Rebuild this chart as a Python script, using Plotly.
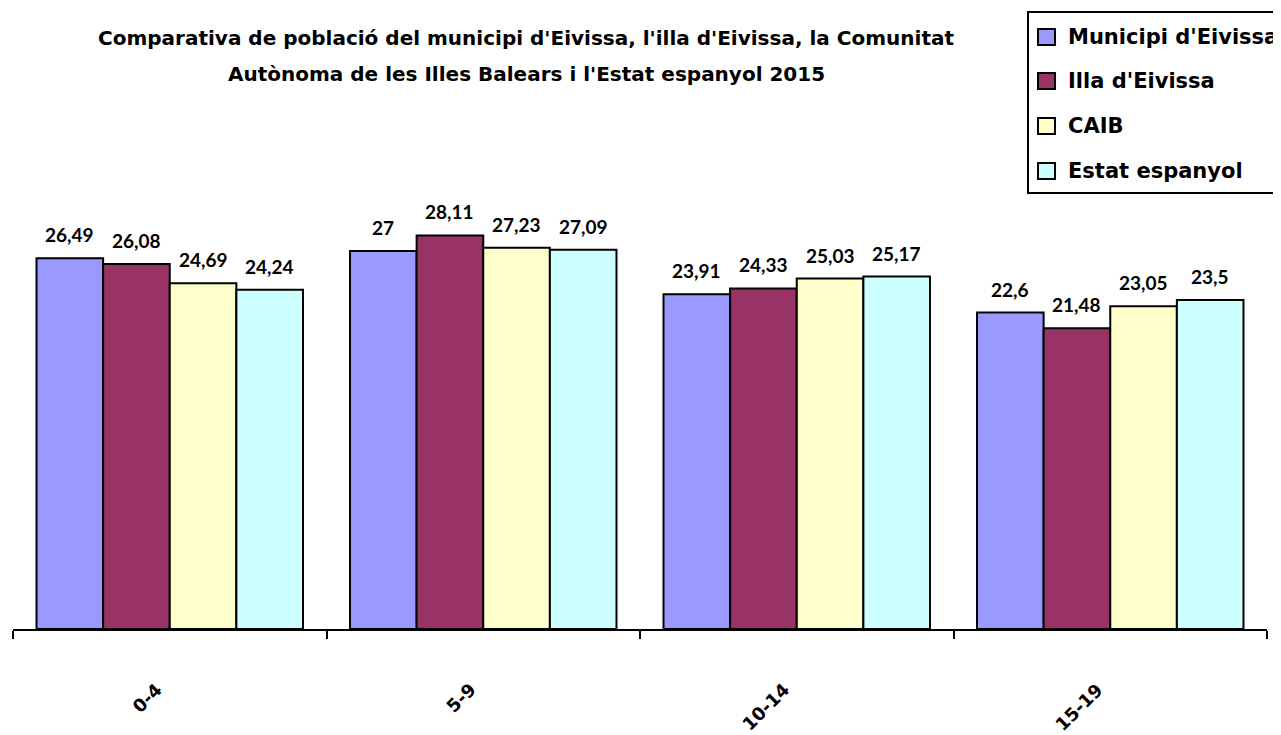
import plotly.graph_objects as go

categories = ["0-4", "5-9", "10-14", "15-19"]
series_names = ["Municipi d'Eivissa", "Illa d'Eivissa", "CAIB", "Estat espanyol"]
municipi = [26.49, 27.00, 23.91, 22.60]
illa = [26.08, 28.11, 24.33, 21.48]
caib = [24.69, 27.23, 25.03, 23.05]
estat = [24.24, 27.09, 25.17, 23.50]
label_municipi = ["26,49", "27", "23,91", "22,6"]
label_illa = ["26,08", "28,11", "24,33", "21,48"]
label_caib = ["24,69", "27,23", "25,03", "23,05"]
label_estat = ["24,24", "27,09", "25,17", "23,5"]
title_lines = ["Comparativa de població del municipi d'Eivissa, l'illa d'Eivissa, la Comunitat",
               "Autònoma de les Illes Balears i l'Estat espanyol 2015"]
colors = ["#9999FF", "#993366", "#FFFFCC", "#CCFFFF"]

LATO = "Lato"
DJ = "DejaVu Sans"
W, H = 1281, 735
OFF = 8  # page body offset compensation
PX0, PY0, PW, PH = 13, 209, 1254, 420  # target plot area (in reference pixels)
ml = PX0 - OFF
mt = PY0 - OFF
mr = W - ml - PW
mb = H - mt - PH


def px(x):
    return (x - PX0) / PW


def py(y):
    return (PY0 + PH - y) / PH


fig = go.Figure()
all_vals = [municipi, illa, caib, estat]
all_labels = [label_municipi, label_illa, label_caib, label_estat]
for i, (name, vals) in enumerate(zip(series_names, all_vals)):
    fig.add_trace(go.Bar(
        x=categories, y=vals, name=name,
        marker=dict(color=colors[i], line=dict(color="black", width=2)),
        showlegend=False,
    ))

bargap = 0.15
bar_w = PW / len(categories) * (1 - bargap) / len(series_names)
for i, (vals, labs) in enumerate(zip(all_vals, all_labels)):
    for c, v, t in zip(categories, vals, labs):
        fig.add_annotation(
            x=c, y=v, xref="x", yref="y", text=t, showarrow=False,
            xshift=(i - 1.5) * bar_w, yshift=10,
            xanchor="center", yanchor="bottom",
            font=dict(family=LATO, size=19, color="black", weight="bold"),
        )

for c in categories:
    fig.add_annotation(
        x=c, xref="x", y=py(676), yref="paper",
        text=c, showarrow=False, textangle=-45, xshift=0,
        font=dict(family=DJ, size=18, color="black", weight="bold"),
        xanchor="right", yanchor="top",
    )

for txt, yc in zip(title_lines, [38, 74]):
    fig.add_annotation(
        x=px(526), y=py(yc), xref="paper", yref="paper", text=txt, showarrow=False,
        xanchor="center", yanchor="middle",
        font=dict(family=DJ, size=20, color="black", weight="bold"),
    )

# legend (drawn manually to match the reference box)
shapes = [dict(type="rect", xref="paper", yref="paper",
               x0=px(1028), x1=px(1310), y0=py(193), y1=py(12),
               line=dict(color="black", width=2), fillcolor="white", layer="above")]
legend_y = [37, 81, 126, 171]
for i, (name, yc) in enumerate(zip(series_names, legend_y)):
    shapes.append(dict(type="rect", xref="paper", yref="paper",
                       x0=px(1038), x1=px(1055), y0=py(yc + 8), y1=py(yc - 8),
                       line=dict(color="black", width=2), fillcolor=colors[i], layer="above"))
    fig.add_annotation(
        x=px(1066), y=py(yc), xref="paper", yref="paper", text=name, showarrow=False,
        xanchor="left", yanchor="middle",
        font=dict(family=DJ, size=21, color="black", weight="bold"),
    )

fig.update_layout(
    width=W, height=H,
    margin=dict(l=ml, r=mr, t=mt, b=mb, pad=0, autoexpand=False),
    paper_bgcolor="white", plot_bgcolor="white",
    barmode="group", bargap=bargap, bargroupgap=0,
    font=dict(family=LATO, color="black"),
    shapes=shapes,
    xaxis=dict(
        showline=True, linecolor="black", linewidth=2,
        ticks="outside", tickson="boundaries", ticklen=8, tickwidth=2, tickcolor="black",
        showticklabels=False, showgrid=False,
    ),
    yaxis=dict(range=[0, 30], visible=False, showgrid=False, zeroline=False),
    showlegend=False,
)

fig.write_html("out.html")
